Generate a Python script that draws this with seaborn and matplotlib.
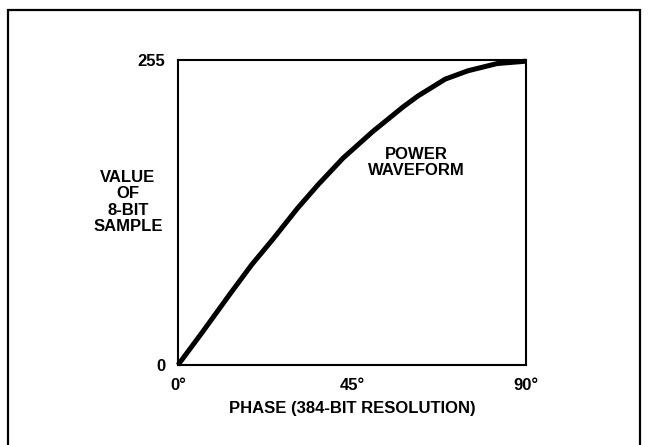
import matplotlib
matplotlib.use("Agg")
import matplotlib.pyplot as plt
from matplotlib.patches import Rectangle
import seaborn as sns
import pandas as pd

# Values
phase_deg = [0, 6.2, 13.7, 19.1, 24.5, 30.9, 36.3, 42.7, 50.3, 58.3, 62.1, 69.1, 75.0, 82.5, 90.0]
sample_value = [0, 27, 60.5, 84, 105, 131, 151, 173, 195, 216, 225, 239, 246, 252, 254]
x_ticks = [0, 45, 90]
x_tick_labels = ["0°", "45°", "90°"]
y_ticks = [0, 255]
y_tick_labels = ["0", "255"]

sns.set_style("white")
plt.rcParams['font.family'] = ['Liberation Sans Narrow', 'Liberation Sans', 'DejaVu Sans']
plt.rcParams['font.weight'] = 'bold'
plt.rcParams['text.color'] = 'black'
plt.rcParams['xtick.color'] = 'black'
plt.rcParams['ytick.color'] = 'black'
plt.rcParams['axes.labelcolor'] = 'black'

df = pd.DataFrame({"phase": phase_deg, "value": sample_value})

W, H = 649, 445
FS = 12
fig = plt.figure(figsize=(W / 100, H / 100), dpi=100)
ax = fig.add_axes([178 / W, 1 - 365 / H, (526 - 178) / W, (365 - 60) / H])

sns.lineplot(data=df, x="phase", y="value", color="black", linewidth=3.6, ax=ax,
             solid_capstyle="butt", solid_joinstyle="round", clip_on=False)

ax.set_xlim(0, 90)
ax.set_ylim(0, 255)
ax.set_xticks(x_ticks)
ax.set_xticklabels(x_tick_labels, fontsize=FS, fontweight="bold", color="black")
ax.set_yticks(y_ticks)
ax.set_yticklabels(y_tick_labels, fontsize=FS, fontweight="bold", color="black")
ax.tick_params(axis="both", length=0, pad=9)
for s in ax.spines.values():
    s.set_visible(True)
    s.set_color("black")
    s.set_linewidth(1.5)

ax.set_xlabel("PHASE (384-BIT RESOLUTION)", fontsize=FS, fontweight="bold", labelpad=6, color="black")
ax.set_ylabel("")

fig.text(128 / W, 1 - 202 / H, "VALUE\nOF\n8-BIT\nSAMPLE", ha="center", va="center",
         fontsize=FS, fontweight="bold", linespacing=1.1, color="black")
ax.text(61.6, 169, "POWER\nWAVEFORM", ha="center", va="center",
        fontsize=FS, fontweight="bold", linespacing=1.1, color="black")

fig.patches.append(Rectangle((8 / W, -0.05), (640 - 8) / W, 1.05 - 10 / H,
                             transform=fig.transFigure, fill=False,
                             edgecolor="black", linewidth=1.6))

fig.savefig("out.png", dpi=100)
